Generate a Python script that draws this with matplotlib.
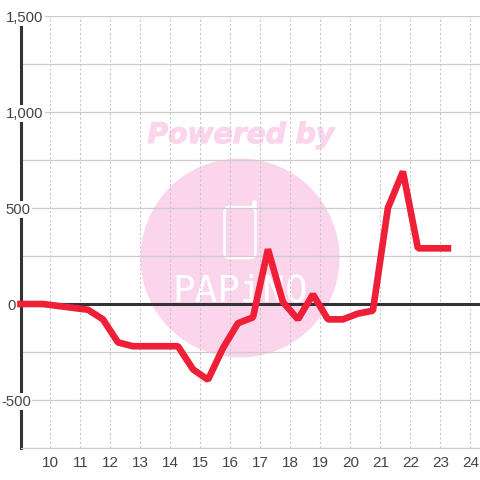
import matplotlib
matplotlib.use("Agg")
import matplotlib.pyplot as plt
import matplotlib.patheffects as pe
from matplotlib.patches import Circle, FancyBboxPatch
from matplotlib.ticker import FixedLocator, NullFormatter
from matplotlib.transforms import offset_copy

# half-hourly readings
hours = [9.0, 9.75, 10.25, 10.75, 11.25, 11.75, 12.25, 12.75, 13.25, 13.75,
         14.25, 14.75, 15.25, 15.75, 16.25, 16.75, 17.25, 17.75, 18.25, 18.75,
         19.25, 19.75, 20.25, 20.75, 21.25, 21.75, 22.25, 22.75, 23.25]
values = [0, 0, -10, -20, -30, -80, -200, -220, -220, -220,
          -220, -340, -395, -230, -100, -70, 285, 10, -80, 50,
          -80, -80, -50, -35, 500, 690, 290, 290, 290]
x_ticks = list(range(10, 25))
y_ticks = [-500, 0, 500, 1000, 1500]
y_minor = [-750, -250, 250, 750, 1250]
y_labels = ["-500", "0", "500", "1,000", "1,500"]

plt.rcParams["font.family"] = ["Liberation Sans", "DejaVu Sans"]
fig = plt.figure(figsize=(4.8, 4.8), dpi=100)

# watermark lives in pixel coordinates, under the chart
bg = fig.add_axes([0, 0, 1, 1])
bg.set_xlim(0, 480)
bg.set_ylim(480, 0)
bg.axis("off")
pink = "#fbd5ec"
bg.add_patch(Circle((240, 258), 99.5, color=pink, lw=0))
bg.text(241, 135, "Powered by", color=pink, fontsize=20.3, fontweight="bold",
        fontstyle="italic", ha="center", va="center", family="DejaVu Sans",
        path_effects=[pe.withStroke(linewidth=0.9, foreground=pink)])
bg.add_patch(FancyBboxPatch((224.5, 207), 31, 51, boxstyle="round,pad=0,rounding_size=5",
                            fc="none", ec="white", lw=1.8))
bg.plot([254, 254], [207, 202], color="white", lw=3.4, solid_capstyle="round")
bg.text(240, 291, "PAPiNO", color="white", fontsize=27, ha="center", va="center",
        family="DejaVu Sans Mono")

ax = fig.add_axes([20.5 / 480, 32 / 480, 459.5 / 480, 432 / 480])
ax.patch.set_alpha(0)
ax.set_xlim(9, 24.32)
ax.set_ylim(-750, 1500)

for s in ["top", "right"]:
    ax.spines[s].set_visible(False)
ax.spines["left"].set_color("#333333")
ax.spines["left"].set_linewidth(2.2)
ax.spines["left"].set_zorder(1)
ax.spines["bottom"].set_color("#cccccc")
ax.spines["bottom"].set_linewidth(0.8)

ax.xaxis.set_major_locator(FixedLocator(x_ticks))
ax.yaxis.set_major_locator(FixedLocator(y_ticks))
ax.yaxis.set_minor_locator(FixedLocator(y_minor))
ax.yaxis.set_major_formatter(NullFormatter())
ax.grid(axis="x", color="#c8c8c8", linestyle=(0, (2, 2)), linewidth=0.8)
ax.grid(axis="y", which="both", color="#cccccc", linewidth=0.9)
ax.set_axisbelow(True)
ax.tick_params(axis="both", which="both", length=0)
ax.tick_params(axis="x", labelsize=11, labelcolor="#444444", pad=5.5)

ax.axhline(0, color="#333333", linewidth=2.2, zorder=2)
ax.plot(hours, values, color="#ee1f36", linewidth=4.8, solid_joinstyle="bevel",
        solid_capstyle="projecting", zorder=3, clip_on=False)

# y labels sit on top of the axis line, each with its own right edge
right_edges = [31, 16, 30.5, 43.5, 43.5]
for val, lab, edge in zip(y_ticks, y_labels, right_edges):
    tr = offset_copy(ax.get_yaxis_transform(), fig=fig, x=(edge - 20.5) * 0.72, y=0, units="points")
    ax.text(0, val, lab, transform=tr, ha="right", va="center_baseline", fontsize=10.7,
            color="#444444", zorder=5, bbox=dict(fc="white", ec="none", pad=1), clip_on=False)

fig.savefig("out.png", dpi=100)
